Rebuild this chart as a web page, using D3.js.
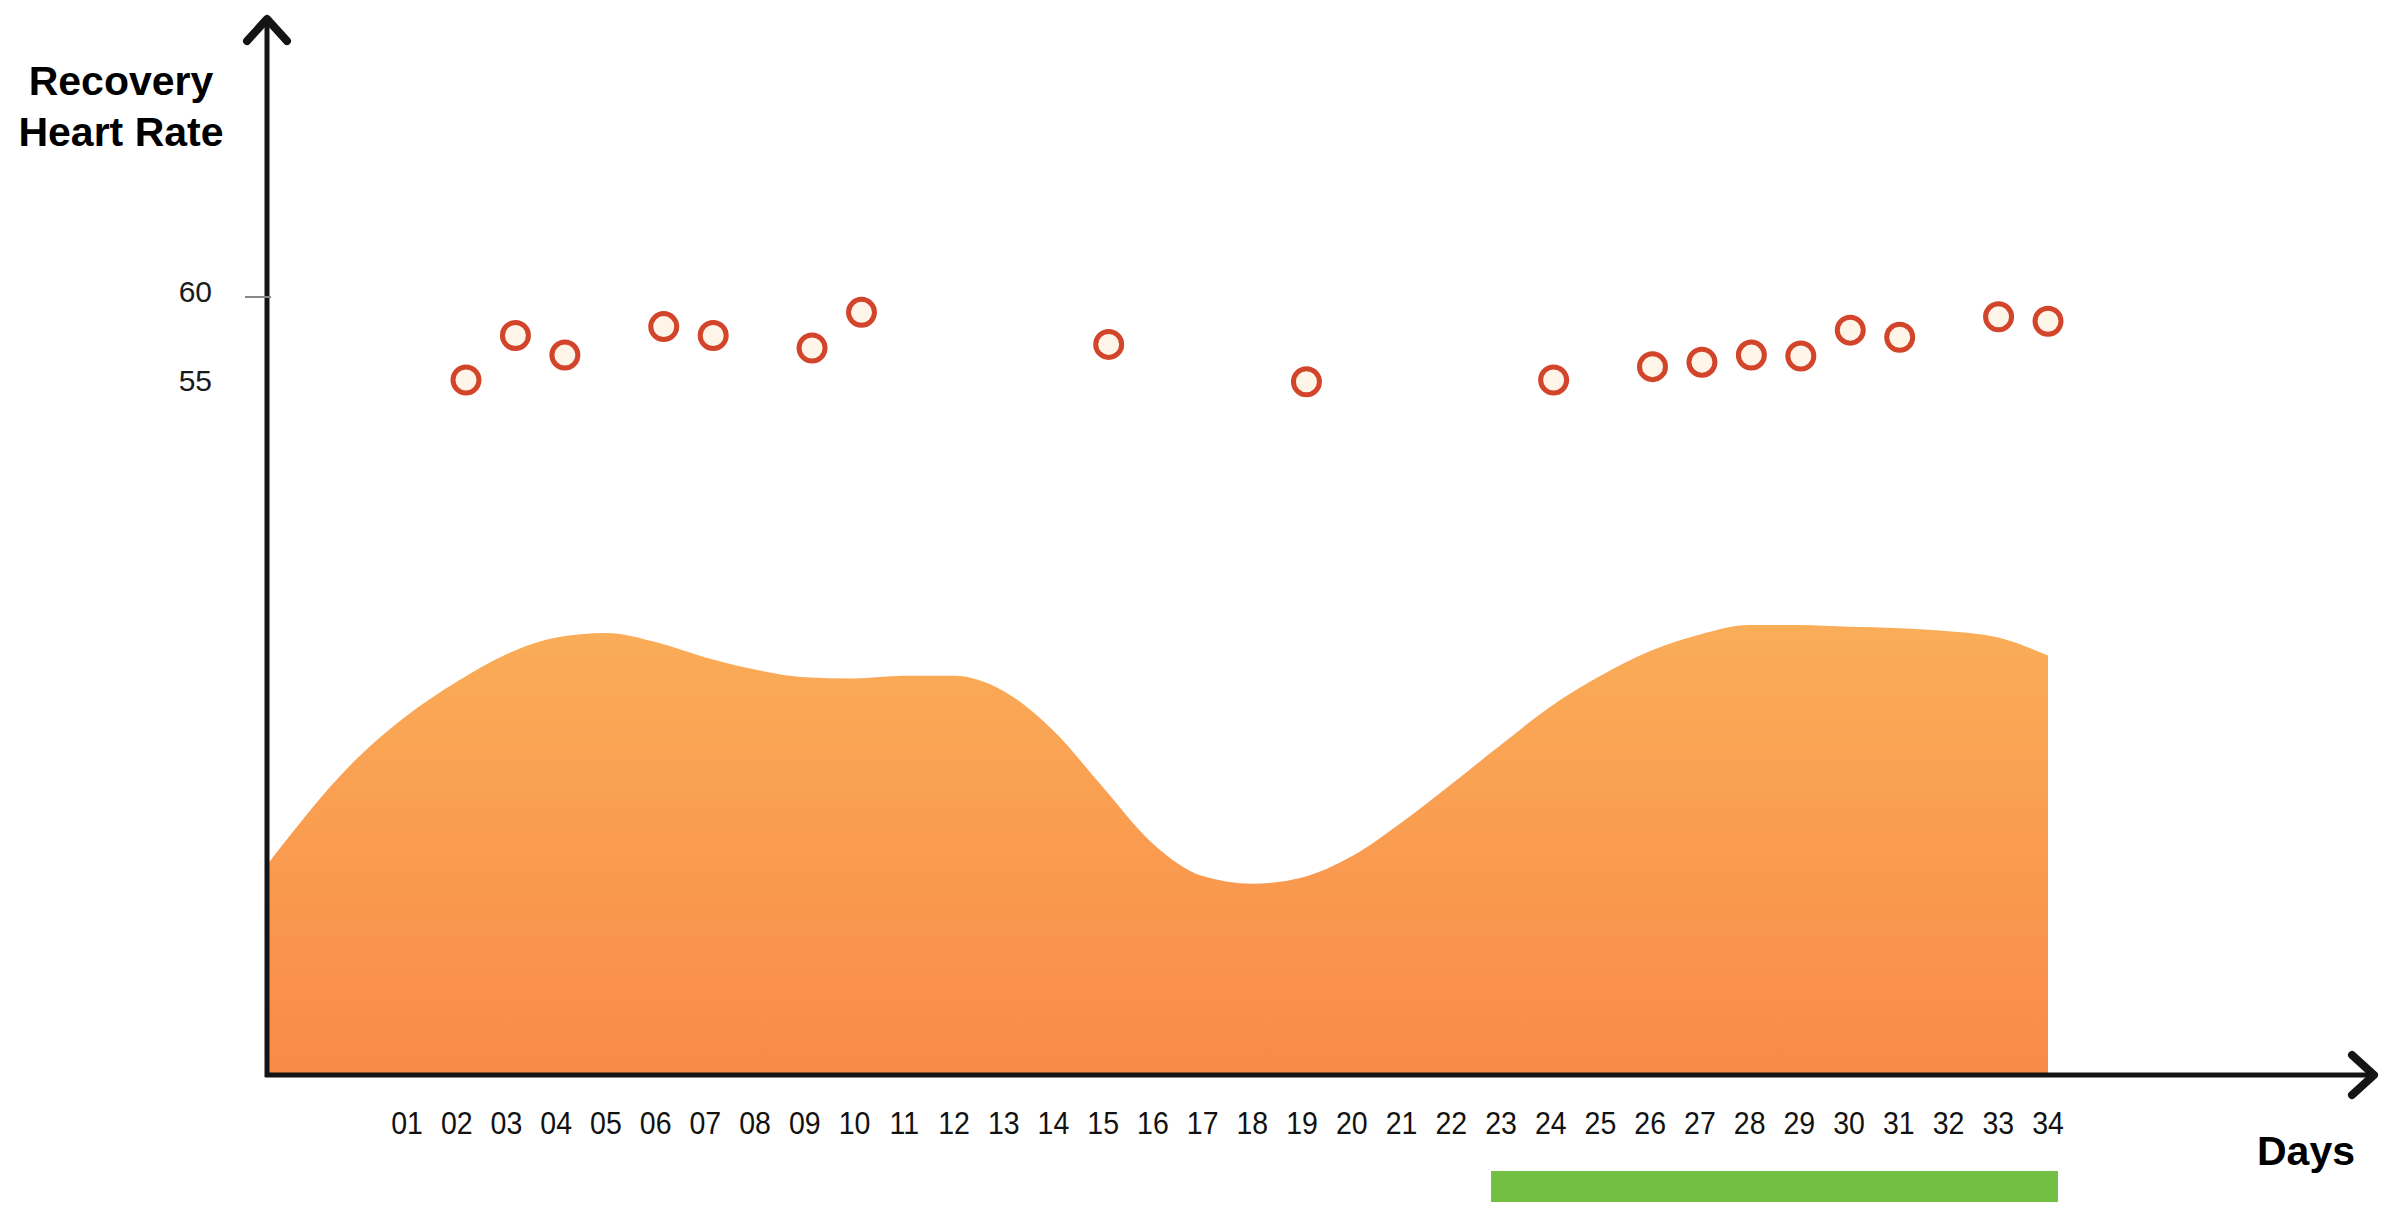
<!DOCTYPE html>
<html>
<head>
<meta charset="utf-8">
<script src="https://cdn.jsdelivr.net/npm/d3@7"></script>
<style>
  html, body { margin: 0; padding: 0; background: #ffffff; }
  svg { display: block; }
</style>
</head>
<body>
<svg id="chart" width="2397" height="1210"></svg>
<script>
// ---------- data ----------
const dayLabels = ["01","02","03","04","05","06","07","08","09","10","11","12","13","14","15","16","17",
                   "18","19","20","21","22","23","24","25","26","27","28","29","30","31","32","33","34"];
const yTickValues = [55, 60];
const yTickLabels = ["55", "60"];

// recovery heart rate readings (day, bpm)
const hrDays   = [2, 3, 4, 6, 7, 9, 10, 15, 19, 24, 26, 27, 28, 29, 30, 31, 33, 34];
const hrValues = [55.0, 57.5, 56.4, 58.0, 57.5, 56.8, 58.8, 57.0, 54.9, 55.0, 55.75, 56.0, 56.4, 56.35, 57.8, 57.4, 58.55, 58.3];

// background load curve (relative units, 0-100), starts at the vertical axis
const loadDays   = [-1.82, 0, 1, 2, 3, 4, 5, 6, 7, 8, 9, 10, 11, 12, 13, 14, 15, 16, 17,
                    18, 19, 20, 21, 22, 23, 24, 25, 26, 27, 28, 29, 30, 31, 32, 33, 34];
const loadValues = [46.6, 70.4, 79.9, 87.4, 93.5, 97.2, 98.2, 96.2, 92.8, 90.1, 88.4, 88.1, 88.7, 88.7, 85.3, 76.5, 63.9, 51.4, 44.2,
                    42.5, 43.9, 48.6, 56.1, 64.6, 73.4, 81.9, 88.7, 94.2, 97.9, 100, 100, 99.6, 99.3, 98.6, 97.2, 93.2];

// highlighted period (days)
const highlightSpan = [22.8, 34.2];

const yAxisTitle = ["Recovery", "Heart Rate"];
const xAxisTitle = "Days";

// ---------- layout ----------
const axisX = 267, axisY = 1075, topY = 15, rightX = 2378;

const svg = d3.select("#chart");

const x = d3.scaleLinear().domain([1, 34]).range([407, 2048]);
// the dots sit on a slightly different day grid than the labels in the original
const xPt = d3.scaleLinear().domain([2, 34]).range([466, 2048]);
const y = d3.scaleLinear().domain([55, 60]).range([380, 291]);
const yLoad = d3.scaleLinear().domain([0, 100]).range([axisY, 625]);

// gradient for area
const defs = svg.append("defs");
const grad = defs.append("linearGradient").attr("id", "areaGrad")
  .attr("x1", 0).attr("y1", 0).attr("x2", 0).attr("y2", 1);
grad.append("stop").attr("offset", "0%").attr("stop-color", "#FAAD58");
grad.append("stop").attr("offset", "100%").attr("stop-color", "#F98A49");

// area
const loadData = loadDays.map((d, i) => ({ d, v: loadValues[i] }));
const area = d3.area()
  .x(p => x(p.d))
  .y0(axisY)
  .y1(p => yLoad(p.v))
  .curve(d3.curveMonotoneX);
svg.append("path").datum(loadData)
  .attr("d", area)
  .attr("fill", "url(#areaGrad)");

// axes lines
const axisColor = "#141414";
svg.append("line").attr("x1", axisX).attr("y1", axisY + 2).attr("x2", axisX).attr("y2", topY + 4)
  .attr("stroke", axisColor).attr("stroke-width", 5);
svg.append("line").attr("x1", axisX - 2).attr("y1", axisY).attr("x2", rightX - 4).attr("y2", axisY)
  .attr("stroke", axisColor).attr("stroke-width", 5);
// arrow heads (chevrons)
svg.append("path")
  .attr("d", `M${axisX - 20},${topY + 26} L${axisX},${topY + 4} L${axisX + 20},${topY + 26}`)
  .attr("fill", "none").attr("stroke", axisColor).attr("stroke-width", 8)
  .attr("stroke-linecap", "round").attr("stroke-linejoin", "round");
svg.append("path")
  .attr("d", `M${rightX - 26},${axisY - 20} L${rightX - 4},${axisY} L${rightX - 26},${axisY + 20}`)
  .attr("fill", "none").attr("stroke", axisColor).attr("stroke-width", 8)
  .attr("stroke-linecap", "round").attr("stroke-linejoin", "round");

// y ticks
svg.append("line")
  .attr("x1", axisX - 22).attr("x2", axisX + 4)
  .attr("y1", y(60) + 6).attr("y2", y(60) + 6)
  .attr("stroke", "#888").attr("stroke-width", 2);
svg.append("g").selectAll("text").data(yTickValues).join("text")
  .attr("x", 212)
  .attr("y", d => y(d))
  .attr("dy", "0.36em")
  .attr("text-anchor", "end")
  .attr("font-family", "Liberation Sans, Arial, sans-serif")
  .attr("font-size", 30)
  .attr("fill", "#1a1a1a")
  .text((d, i) => yTickLabels[i]);

// x tick labels
svg.append("g").selectAll("text").data(dayLabels).join("text")
  .attr("transform", (d, i) => `translate(${x(i + 1)},1134) scale(0.92,1)`)
  .attr("text-anchor", "middle")
  .attr("font-family", "Liberation Sans, Arial, sans-serif")
  .attr("font-size", 31)
  .attr("fill", "#111")
  .text(d => d);

// highlight bar
svg.append("rect")
  .attr("x", x(highlightSpan[0]))
  .attr("y", 1171)
  .attr("width", x(highlightSpan[1]) - x(highlightSpan[0]))
  .attr("height", 31)
  .attr("fill", "#72BF44");

// points
svg.append("g").selectAll("circle").data(hrDays.map((d, i) => ({ d, v: hrValues[i] }))).join("circle")
  .attr("cx", p => xPt(p.d))
  .attr("cy", p => y(p.v))
  .attr("r", 13)
  .attr("fill", "#FFF4E8")
  .attr("stroke", "#D2452B")
  .attr("stroke-width", 5);

// titles
svg.append("text")
  .attr("x", 121).attr("y", 95)
  .attr("text-anchor", "middle")
  .attr("font-family", "Liberation Sans, Arial, sans-serif")
  .attr("font-weight", "bold").attr("font-size", 41).attr("fill", "#000")
  .selectAll("tspan").data(yAxisTitle).join("tspan")
  .attr("x", 121).attr("dy", (d, i) => i === 0 ? 0 : 51)
  .text(d => d);

svg.append("text")
  .attr("x", 2306).attr("y", 1165)
  .attr("text-anchor", "middle")
  .attr("font-family", "Liberation Sans, Arial, sans-serif")
  .attr("font-weight", "bold").attr("font-size", 41).attr("fill", "#000")
  .text(xAxisTitle);
</script>
</body>
</html>
